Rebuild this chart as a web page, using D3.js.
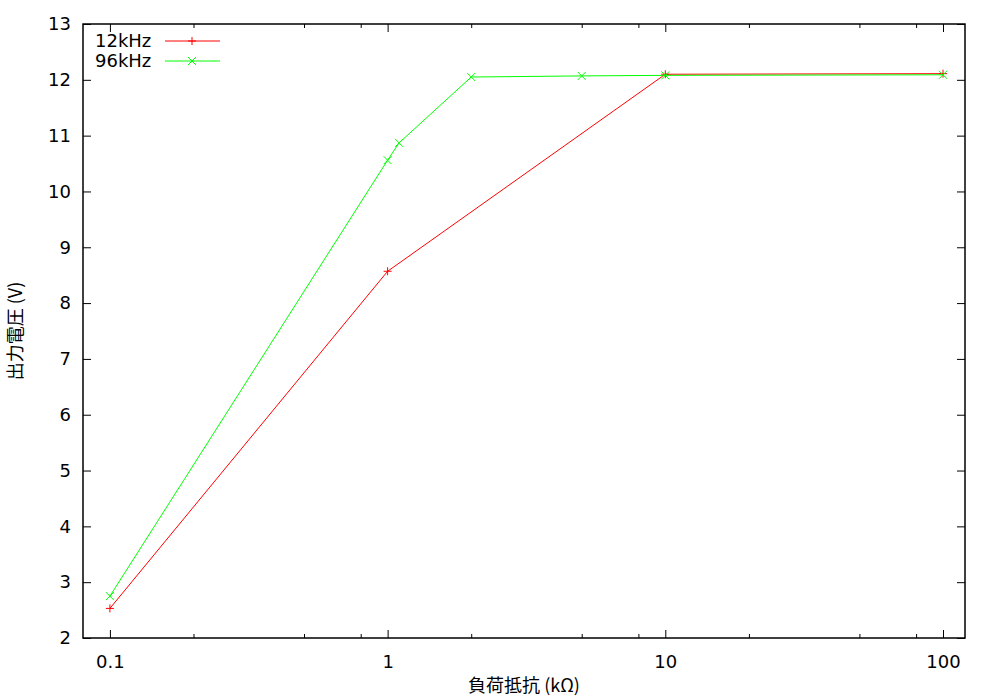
<!DOCTYPE html>
<html><head><meta charset="utf-8">
<script src="https://cdn.jsdelivr.net/npm/d3@7"></script>
<style>body{margin:0;background:#fff}svg{display:block}text{font-family:"DejaVu Sans",sans-serif;font-size:18px;fill:#000}</style>
</head><body>
<script>
const xLoad12 = [0.1, 1, 10, 100];
const v12 = [2.53, 8.57, 12.10, 12.11];
const xLoad96 = [0.1, 1, 1.1, 2, 5, 10, 100];
const v96 = [2.75, 10.56, 10.87, 12.05, 12.07, 12.08, 12.09];
const seriesNames = ["12kHz", "96kHz"];
const xMajor = [0.1, 1, 10, 100];
const xMajorLabels = ["0.1", "1", "10", "100"];
const xMinor = [0.2, 0.5, 0.8, 2, 5, 8, 20, 50, 80];
const yTicks = [2,3,4,5,6,7,8,9,10,11,12,13];
const xTitle = "負荷抵抗 (kΩ)";
const yTitle = "出力電圧 (V)";

const W = 1000, H = 700;
const L = 83, R = 965, T = 24, B = 638;
const svg = d3.select("body").append("svg").attr("width", W).attr("height", H);
const x = d3.scaleLog().domain([0.08, 120]).range([L, R]);
const y = d3.scaleLinear().domain([2, 13]).range([B, T]);

function styleAxis(g){ g.select(".domain").remove(); g.selectAll("line").attr("stroke","#000").attr("stroke-width",1); }

svg.append("g").attr("transform",`translate(0,${B})`)
  .call(d3.axisBottom(x).tickValues(xMajor).tickSize(-8).tickPadding(17).tickFormat((d,i)=>xMajorLabels[i]))
  .call(styleAxis).call(g=>g.selectAll("text").style("font-size","18px").style("font-family","DejaVu Sans"));
svg.append("g").attr("transform",`translate(0,${B})`)
  .call(d3.axisBottom(x).tickValues(xMinor).tickSize(-4).tickFormat(""))
  .call(styleAxis);
svg.append("g").attr("transform",`translate(0,${T})`)
  .call(d3.axisTop(x).tickValues(xMajor).tickSize(-8).tickFormat(""))
  .call(styleAxis);
svg.append("g").attr("transform",`translate(0,${T})`)
  .call(d3.axisTop(x).tickValues(xMinor).tickSize(-4).tickFormat(""))
  .call(styleAxis);
svg.append("g").attr("transform",`translate(${L},0)`)
  .call(d3.axisLeft(y).tickValues(yTicks).tickSize(-8).tickPadding(12).tickFormat(d3.format("d")))
  .call(styleAxis).call(g=>g.selectAll("text").style("font-size","18px").style("font-family","DejaVu Sans"));
svg.append("g").attr("transform",`translate(${R},0)`)
  .call(d3.axisRight(y).tickValues(yTicks).tickSize(-8).tickFormat(""))
  .call(styleAxis);

svg.append("rect").attr("x",L).attr("y",T).attr("width",R-L).attr("height",B-T)
  .attr("fill","none").attr("stroke","#000").attr("stroke-width",1.5);

const line = d3.line().x(d=>x(d[0])).y(d=>y(d[1]));
const d12 = xLoad12.map((v,i)=>[v, v12[i]]);
const d96 = xLoad96.map((v,i)=>[v, v96[i]]);
const cols = ["#ff0000", "#00ff00"];

function plus(g, cx, cy, c){ g.append("path").attr("d",`M${cx-4},${cy}H${cx+4}M${cx},${cy-4}V${cy+4}`).attr("stroke",c).attr("stroke-width",1).attr("fill","none"); }
function cross(g, cx, cy, c){ g.append("path").attr("d",`M${cx-4},${cy-4}L${cx+4},${cy+4}M${cx-4},${cy+4}L${cx+4},${cy-4}`).attr("stroke",c).attr("stroke-width",1).attr("fill","none"); }

const pg = svg.append("g");
pg.append("path").datum(d12).attr("d",line).attr("fill","none").attr("stroke",cols[0]).attr("stroke-width",1);
d12.forEach(d=>plus(pg, x(d[0]), y(d[1]), cols[0]));
pg.append("path").datum(d96).attr("d",line).attr("fill","none").attr("stroke",cols[1]).attr("stroke-width",1);
d96.forEach(d=>cross(pg, x(d[0]), y(d[1]), cols[1]));

// legend
const lg = svg.append("g");
seriesNames.forEach((n,i)=>{
  const yy = 41 + i*20;
  lg.append("text").attr("x",95).attr("y",yy).attr("dy","0.35em").text(n);
  lg.append("line").attr("x1",165).attr("x2",220).attr("y1",yy).attr("y2",yy).attr("stroke",cols[i]).attr("stroke-width",1);
  if(i===0) plus(lg,192,yy,cols[i]); else cross(lg,192,yy,cols[i]);
});

svg.append("text").attr("x",(L+R)/2).attr("y",692).attr("text-anchor","middle")
  .style("font-family","'Noto Sans CJK JP','DejaVu Sans',sans-serif").style("font-size","18px").text(xTitle);
svg.append("text").attr("transform",`translate(22,${(T+B)/2}) rotate(-90)`).attr("text-anchor","middle")
  .style("font-family","'Noto Sans CJK JP','DejaVu Sans',sans-serif").style("font-size","18px").text(yTitle);
</script>
</body></html>
